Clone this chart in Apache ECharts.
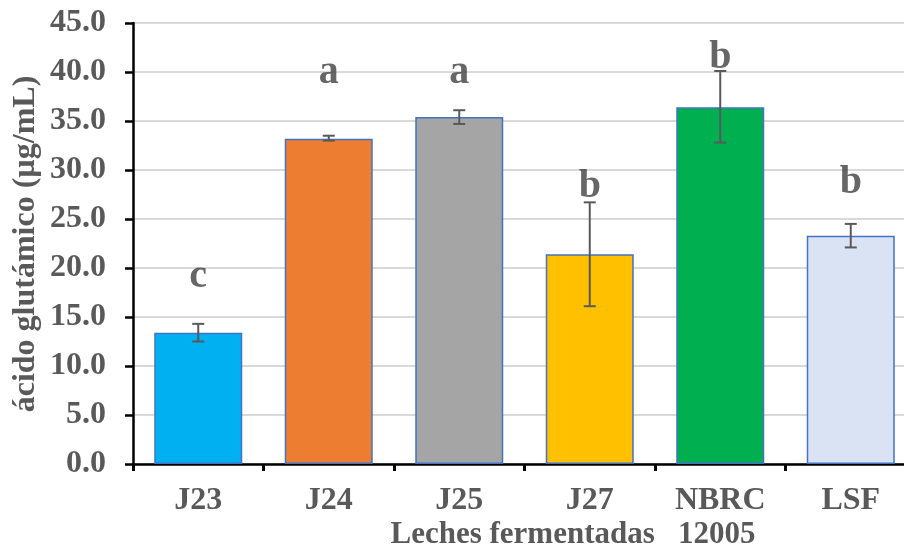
<!DOCTYPE html>
<html>
<head>
<meta charset="utf-8">
<script src="https://cdn.jsdelivr.net/npm/echarts@6/dist/echarts.min.js"></script>
<style>
  html, body { margin: 0; padding: 0; background: #fff; overflow: hidden; }
  #chart { width: 920px; height: 552px; }
</style>
</head>
<body>
<div id="chart"></div>
<script>
// Glutamic acid content of fermented milks, mean ± error per strain
const categories = ['J23', 'J24', 'J25', 'J27', 'NBRC', 'LSF'];
const means = [13.4, 33.2, 35.4, 21.4, 36.4, 23.3];
const errLow = [12.5, 33.0, 34.7, 16.1, 32.8, 22.1];
const errHigh = [14.3, 33.5, 36.1, 26.7, 40.1, 24.5];
const barColors = ['#00B0F0', '#ED7D31', '#A5A5A5', '#FFC000', '#00B050', '#DAE3F3'];
// significance letters and the axis value each one sits at
const letters = ['c', 'a', 'a', 'b', 'b', 'b'];
const letterAt = [19.1, 39.9, 39.9, 28.3, 41.5, 28.7];
const yTicks = [0, 5, 10, 15, 20, 25, 30, 35, 40, 45];

const FONT = '"Liberation Serif", "Times New Roman", serif';
const chart = echarts.init(document.getElementById('chart'), null, { renderer: 'canvas' });

chart.setOption({
  animation: false,
  backgroundColor: '#ffffff',
  grid: { left: 133, top: 23, width: 783, bottom: 88, containLabel: false },
  xAxis: {
    type: 'category',
    data: categories,
    axisLine: { lineStyle: { color: '#000', width: 2.5 } },
    axisTick: { show: true, length: 7, lineStyle: { color: '#000', width: 3 } },
    axisLabel: { color: '#595959', fontFamily: FONT, fontWeight: 'bold', fontSize: 32, margin: 21 },
    splitLine: { show: false }
  },
  yAxis: {
    type: 'value',
    min: yTicks[0],
    max: yTicks[yTicks.length - 1],
    interval: 5,
    axisLine: { show: true, lineStyle: { color: '#000', width: 2.5 } },
    axisTick: { show: true, length: 8, lineStyle: { color: '#000', width: 2.5 } },
    axisLabel: {
      color: '#595959', fontFamily: FONT, fontWeight: 'bold', fontSize: 32, margin: 27,
      formatter: v => v.toFixed(1)
    },
    splitLine: { show: true, lineStyle: { color: '#D9D9D9', width: 2 } }
  },
  graphic: [
    {
      type: 'text',
      x: 26,
      y: 244,
      rotation: Math.PI / 2,
      style: {
        text: 'ácido glutámico (µg/mL)',
        font: 'bold 32px ' + FONT,
        fill: '#595959',
        align: 'center',
        verticalAlign: 'middle'
      }
    },
    {
      type: 'text',
      x: 573,
      y: 535,
      style: {
        text: 'Leches fermentadas   12005',
        font: 'bold 31px ' + FONT,
        fill: '#595959',
        align: 'center',
        verticalAlign: 'middle'
      }
    }
  ],
  series: [
    {
      type: 'bar',
      data: means.map((v, i) => ({
        value: v,
        itemStyle: { color: barColors[i], borderColor: '#4472C4', borderWidth: 1.5 }
      })),
      barWidth: 88,
      z: 2
    },
    {
      type: 'custom',
      z: 5,
      data: categories.map((c, i) => [i, errLow[i], errHigh[i]]),
      renderItem: function (params, api) {
        const lo = api.coord([api.value(0), api.value(1)]);
        const hi = api.coord([api.value(0), api.value(2)]);
        const half = 6;
        const style = { stroke: '#595959', lineWidth: 2 };
        return {
          type: 'group',
          children: [
            { type: 'line', shape: { x1: lo[0], y1: lo[1], x2: hi[0], y2: hi[1] }, style },
            { type: 'line', shape: { x1: hi[0] - half, y1: hi[1], x2: hi[0] + half, y2: hi[1] }, style },
            { type: 'line', shape: { x1: lo[0] - half, y1: lo[1], x2: lo[0] + half, y2: lo[1] }, style }
          ]
        };
      }
    },
    {
      type: 'scatter',
      symbolSize: 0,
      z: 6,
      data: letterAt.map((v, i) => ({ value: [i, v], name: letters[i] })),
      label: {
        show: true,
        position: 'inside',
        formatter: p => p.name,
        color: '#404040',
        fontFamily: FONT,
        fontWeight: 'bold',
        fontSize: 40
      }
    }
  ]
});
</script>
</body>
</html>
